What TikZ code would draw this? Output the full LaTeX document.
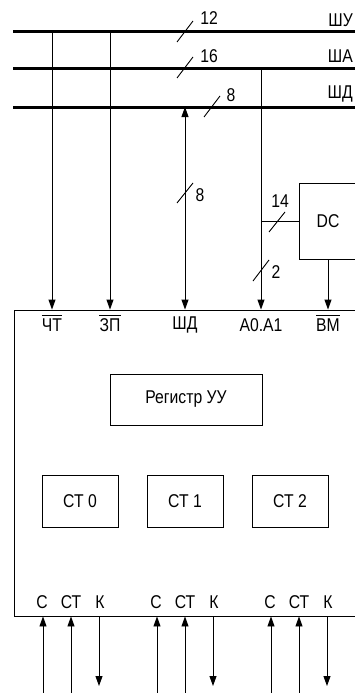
\documentclass[tikz,border=0pt]{standalone}
\usepackage{fontspec}
\setmainfont[FakeStretch=0.85]{Liberation Sans}
\usetikzlibrary{arrows.meta}
\begin{document}
\begin{tikzpicture}[x=1pt,y=-1pt,
  bus/.style={line width=3pt},
  wire/.style={line width=0.9pt},
  tip/.tip={Triangle[length=10pt,width=7pt]},
  arr/.style={wire,-tip},
  darr/.style={wire,tip-tip},
  blk/.style={draw,line width=0.9pt,inner sep=0pt,font=\fontsize{18.5}{18.5}\selectfont},
  lbl/.style={inner sep=0pt,font=\fontsize{18.5}{18.5}\selectfont},
  slash/.style={wire}]
\clip (0,0) rectangle (355,693);
% buses
\coordinate (shuL) at (13,32);  \coordinate (shuR) at (360,32);
\coordinate (shaL) at (13,69);  \coordinate (shaR) at (360,69);
\coordinate (shdL) at (13,107); \coordinate (shdR) at (360,107);
\draw[bus] (shuL) -- (shuR);
\draw[bus] (shaL) -- (shaR);
\draw[bus] (shdL) -- (shdR);
\node[lbl,anchor=east] (tshu) at (353,20) {ШУ};
\node[lbl,anchor=east] (tsha) at (353,56) {ША};
\node[lbl,anchor=east] (tshd) at (353,94) {ШД};
% bus width marks
\draw[slash] (177,42) -- (193,21);
\node[lbl] (n12) at (209,18) {12};
\draw[slash] (177,78) -- (193,57);
\node[lbl] (n16) at (209,56) {16};
\draw[slash] (204,117) -- (220,96);
\node[lbl] (n8a) at (231,95) {8};
% main box
\node[draw,line width=0.9pt,minimum width=360pt,minimum height=306pt,inner sep=0pt] (main) at (194,463) {};
% DC
\node[blk,minimum width=58pt,minimum height=76pt] (dc) at (328,221) {DC};
% taps
\coordinate (cht) at (52,32);
\coordinate (zp) at (110,32);
\coordinate (shd) at (185,107);
\coordinate (adr) at (261,69);
\coordinate (br) at (261,221);
\draw[arr] (cht) -- (cht |- main.north);
\draw[arr] (zp) -- (zp |- main.north);
\draw[darr] (shd) -- (shd |- main.north);
\draw[arr] (adr) -- (adr |- main.north);
\draw[wire] (br) -- (dc.west);
\draw[arr] (dc.south) -- (dc.south |- main.north);
% width marks on wires
\draw[slash] (177,203) -- (193,183);
\node[lbl] (n8b) at (200,195) {8};
\draw[slash] (269,232) -- (285,212);
\node[lbl] (n14) at (280,201) {14};
\draw[slash] (253,281) -- (269,260);
\node[lbl] (n2) at (276,272) {2};
% top labels in box
\node[lbl] (lcht) at (52,325) {ЧТ};
\node[lbl] (lzp) at (110,325) {ЗП};
\node[lbl] (lshd) at (185,325) {ШД};
\node[lbl] (ladr) at (261,325) {A0.A1};
\node[lbl] (lvm) at (328,325) {ВМ};
\foreach \n in {lcht,lzp,lvm}
  \draw[line width=0.9pt] ([yshift=2.5pt]\n.north west) -- ([yshift=2.5pt]\n.north east);
% internal blocks
\node[blk,minimum width=152pt,minimum height=51pt] (reg) at (186,399.5) {Регистр УУ};
\node[blk,minimum width=76pt,minimum height=52pt] (ct0) at (80,501) {СТ 0};
\node[blk,minimum width=76pt,minimum height=52pt] (ct1) at (185,501) {СТ 1};
\node[blk,minimum width=76pt,minimum height=52pt] (ct2) at (290,501) {СТ 2};
% bottom signals
\foreach \i/\x in {0/43,1/157,2/271}{
  \coordinate (c\i) at (\x,693);
  \coordinate (s\i) at (\x+28,693);
  \coordinate (k\i) at (\x+56,686);
  \draw[arr] (c\i) -- (c\i |- main.south);
  \draw[arr] (s\i) -- (s\i |- main.south);
  \draw[arr] (k\i |- main.south) -- (k\i);
  \node[lbl] (lc\i) at (\x-1,602) {С};
  \node[lbl] (ls\i) at (\x+28,602) {СТ};
  \node[lbl] (lk\i) at (\x+57,602) {К};
}
\end{tikzpicture}
\end{document}
